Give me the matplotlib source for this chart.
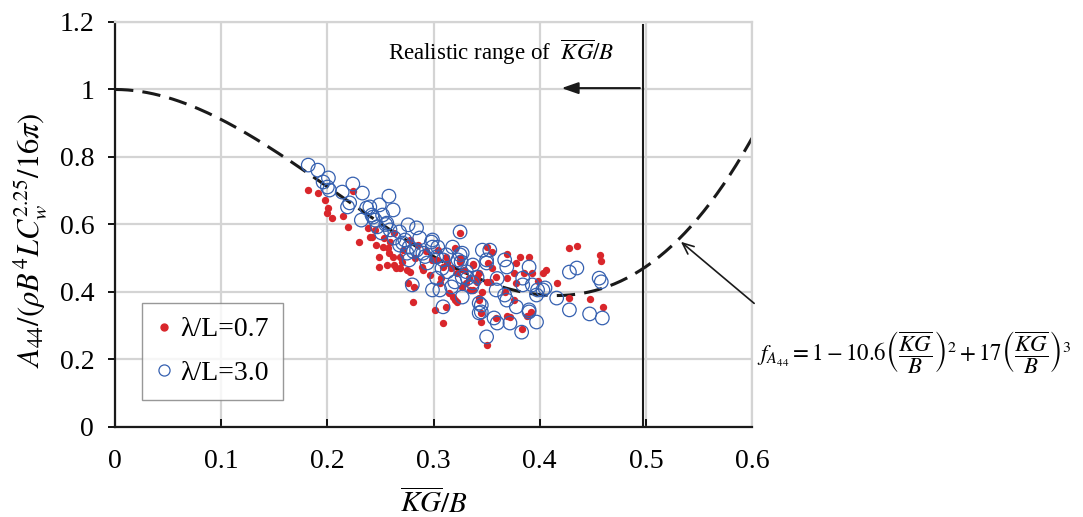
import numpy as np
import matplotlib
matplotlib.use("Agg")
import matplotlib.pyplot as plt
from matplotlib.lines import Line2D

plt.rcParams['font.family'] = ['Liberation Serif', 'DejaVu Serif']
plt.rcParams['mathtext.fontset'] = 'stix'

# lambda/L = 0.7 (red dots)
red_x = [0.182, 0.191, 0.198, 0.201, 0.200, 0.204, 0.215, 0.219, 0.224, 0.230,
         0.238, 0.242, 0.249, 0.256, 0.246, 0.252, 0.259, 0.263, 0.265, 0.268,
         0.275, 0.276, 0.281, 0.282, 0.289, 0.290, 0.278, 0.271, 0.285, 0.303,
         0.304, 0.301, 0.309, 0.312, 0.306, 0.318, 0.322, 0.309, 0.313, 0.322,
         0.325, 0.325, 0.331, 0.334, 0.337, 0.341, 0.343, 0.345, 0.345, 0.350,
         0.350, 0.263, 0.240, 0.257, 0.262, 0.249, 0.245, 0.268, 0.278,
         0.299, 0.312, 0.320, 0.325, 0.337, 0.350, 0.355, 0.351, 0.355, 0.343,
         0.341, 0.353, 0.369, 0.378, 0.369, 0.376, 0.378, 0.390, 0.385, 0.393,
         0.398, 0.403, 0.406, 0.416, 0.428, 0.435, 0.457, 0.458, 0.428, 0.447,
         0.460, 0.392, 0.388, 0.369, 0.372, 0.359, 0.383, 0.343, 0.320, 0.315,
         0.327, 0.337, 0.346, 0.359, 0.367, 0.376, 0.381,
         0.253, 0.258, 0.270, 0.283, 0.293, 0.297, 0.307, 0.316, 0.329, 0.333]
red_y = [0.702, 0.693, 0.673, 0.649, 0.634, 0.619, 0.625, 0.593, 0.699, 0.548,
         0.590, 0.563, 0.474, 0.480, 0.539, 0.533, 0.548, 0.480, 0.471, 0.504,
         0.465, 0.427, 0.370, 0.415, 0.474, 0.465, 0.554, 0.524, 0.539, 0.495,
         0.524, 0.347, 0.308, 0.356, 0.427, 0.385, 0.370, 0.474, 0.486, 0.456,
         0.501, 0.575, 0.427, 0.406, 0.480, 0.444, 0.376, 0.338, 0.311, 0.243,
         0.430, 0.575, 0.563, 0.530, 0.504, 0.504, 0.584, 0.471, 0.459,
         0.495, 0.504, 0.530, 0.489, 0.483, 0.533, 0.519, 0.486, 0.471, 0.456,
         0.430, 0.430, 0.513, 0.486, 0.441, 0.456, 0.427, 0.504, 0.456, 0.456,
         0.433, 0.456, 0.465, 0.427, 0.530, 0.536, 0.510, 0.492, 0.382, 0.379,
         0.356, 0.342, 0.330, 0.329, 0.326, 0.323, 0.290, 0.382, 0.376, 0.397,
         0.415, 0.406, 0.400, 0.444, 0.400, 0.376, 0.504,
         0.560, 0.515, 0.490, 0.500, 0.520, 0.450, 0.440, 0.470, 0.465, 0.440]

# lambda/L = 3.0 (blue circles)
blue_x = [0.182, 0.191, 0.196, 0.200, 0.202, 0.201, 0.224, 0.214, 0.233, 0.221,
          0.237, 0.240, 0.232, 0.243, 0.247, 0.219, 0.249, 0.258, 0.262, 0.242,
          0.245, 0.252, 0.256, 0.259, 0.251, 0.268, 0.276, 0.284, 0.287, 0.273,
          0.268, 0.277, 0.284, 0.290, 0.298, 0.299, 0.275, 0.277, 0.294, 0.303,
          0.309, 0.318, 0.325, 0.327, 0.323, 0.313, 0.303, 0.299, 0.309, 0.320,
          0.327, 0.337, 0.336, 0.346, 0.350, 0.345, 0.343, 0.350, 0.280, 0.327,
          0.317, 0.299, 0.304, 0.325, 0.326, 0.312, 0.353, 0.350, 0.367, 0.369,
          0.390, 0.384, 0.393, 0.403, 0.397, 0.416, 0.428, 0.435, 0.456, 0.458,
          0.428, 0.447, 0.459, 0.390, 0.378, 0.369, 0.367, 0.359, 0.343, 0.345,
          0.357, 0.372, 0.360, 0.383, 0.397, 0.390, 0.332, 0.337, 0.341, 0.384,
          0.398, 0.405, 0.306,
          0.255, 0.263, 0.271, 0.281, 0.292, 0.308, 0.331, 0.360]
blue_y = [0.776, 0.761, 0.726, 0.711, 0.702, 0.738, 0.720, 0.696, 0.693, 0.664,
          0.649, 0.652, 0.613, 0.622, 0.593, 0.652, 0.658, 0.684, 0.643, 0.628,
          0.613, 0.628, 0.604, 0.584, 0.575, 0.578, 0.599, 0.590, 0.560, 0.554,
          0.539, 0.533, 0.524, 0.515, 0.548, 0.533, 0.515, 0.495, 0.486, 0.504,
          0.495, 0.533, 0.578, 0.515, 0.495, 0.460, 0.441, 0.406, 0.356, 0.430,
          0.444, 0.480, 0.415, 0.524, 0.495, 0.361, 0.338, 0.267, 0.421, 0.385,
          0.415, 0.554, 0.533, 0.510, 0.489, 0.510, 0.524, 0.486, 0.495, 0.474,
          0.474, 0.421, 0.421, 0.406, 0.391, 0.382, 0.459, 0.471, 0.441, 0.430,
          0.347, 0.335, 0.323, 0.347, 0.356, 0.376, 0.391, 0.406, 0.367, 0.341,
          0.323, 0.308, 0.308, 0.281, 0.311, 0.341, 0.441, 0.427, 0.444, 0.441,
          0.406, 0.412, 0.406,
          0.600, 0.560, 0.545, 0.520, 0.505, 0.470, 0.460, 0.440]

# fitted curve printed on the chart: f = 1 - 10.6 x^2 + 17 x^3
curve_coeffs = [17, -10.6, 0, 1]
curve_x = np.linspace(0, 0.6, 200)
curve_y = np.polyval(curve_coeffs, curve_x)

x_ticks = [0, 0.1, 0.2, 0.3, 0.4, 0.5, 0.6]
x_tick_labels = ['0', '0.1', '0.2', '0.3', '0.4', '0.5', '0.6']
y_ticks = [0, 0.2, 0.4, 0.6, 0.8, 1.0, 1.2]
y_tick_labels = ['0', '0.2', '0.4', '0.6', '0.8', '1', '1.2']
kg_limit = 0.497

fig = plt.figure(figsize=(10.83, 5.17), dpi=100)
ax = fig.add_axes([0.1062, 0.1741, 0.5882, 0.7834])

red = '#d9262b'
blue = '#3560b0'

ax.plot(curve_x, curve_y, color='#1a1a1a', lw=2.2, dashes=(6, 3), zorder=2)
ax.scatter(red_x, red_y, s=28, color=red, zorder=3, linewidths=0)
ax.scatter(blue_x, blue_y, s=95, facecolors='none', edgecolors=blue, linewidths=0.9, zorder=4)

ax.set_xlim(0, 0.6)
ax.set_ylim(0, 1.2)
ax.set_xticks(x_ticks)
ax.set_xticklabels(x_tick_labels)
ax.set_yticks(y_ticks)
ax.set_yticklabels(y_tick_labels)
ax.grid(True, color='#d4d4d4', lw=1.6, zorder=0)
ax.set_axisbelow(True)
for s in ['top', 'right']:
    ax.spines[s].set_color('#d4d4d4')
    ax.spines[s].set_linewidth(1.6)
for s in ['left', 'bottom']:
    ax.spines[s].set_color('#1a1a1a')
    ax.spines[s].set_linewidth(1.6)
ax.tick_params(axis='x', direction='in', length=6, width=1.3, labelsize=20, pad=16)
ax.tick_params(axis='y', direction='out', length=5, width=1.3, labelsize=20, pad=10)

ax.set_xlabel(r'$\overline{KG}/B$', fontsize=21, labelpad=10)
ax.set_ylabel(r'$A_{44}/(\rho B^4 L C_w^{2.25}/16\pi)$', fontsize=22)
ax.yaxis.set_label_coords(-0.102, 0.462)

# realistic range marker
ax.plot([kg_limit, kg_limit], [0, 1.19], color='#1a1a1a', lw=1.5, zorder=5)
ax.annotate('', xy=(0.418, 1.004), xytext=(kg_limit, 1.004),
            arrowprops=dict(arrowstyle='-|>,head_length=1.0,head_width=0.35',
                            color='#1a1a1a', lw=1.5), zorder=5)
ax.text(0.257, 1.11, r'Realistic range of  $\overline{KG}/B$', fontsize=16.5,
        ha='left', va='center')

# formula annotation
ax.annotate('', xy=(0.531, 0.554), xytext=(0.604, 0.361),
            arrowprops=dict(arrowstyle='->,head_length=0.8,head_width=0.35',
                            color='#1a1a1a', lw=1.2), annotation_clip=False)
fig.text(0.699, 0.318,
         r'$f_{A_{44}}=1-10.6\left(\dfrac{\overline{KG}}{B}\right)^2+17\left(\dfrac{\overline{KG}}{B}\right)^3$',
         fontsize=16.5, ha='left', va='center')

handles = [Line2D([], [], ls='none', marker='o', ms=5, color=red, mec=red),
           Line2D([], [], ls='none', marker='o', ms=8, mfc='none', mec=blue, mew=0.9)]
leg = ax.legend(handles, ['λ/L=0.7', 'λ/L=3.0'], loc='lower left',
                bbox_to_anchor=(0.042, 0.067), borderaxespad=0, fontsize=20,
                frameon=True, fancybox=False, edgecolor='#7f7f7f',
                handlelength=0.6, handletextpad=0.3, labelspacing=0.65,
                borderpad=0.5)
leg.get_frame().set_linewidth(1.0)

fig.savefig('out.png', dpi=100)
